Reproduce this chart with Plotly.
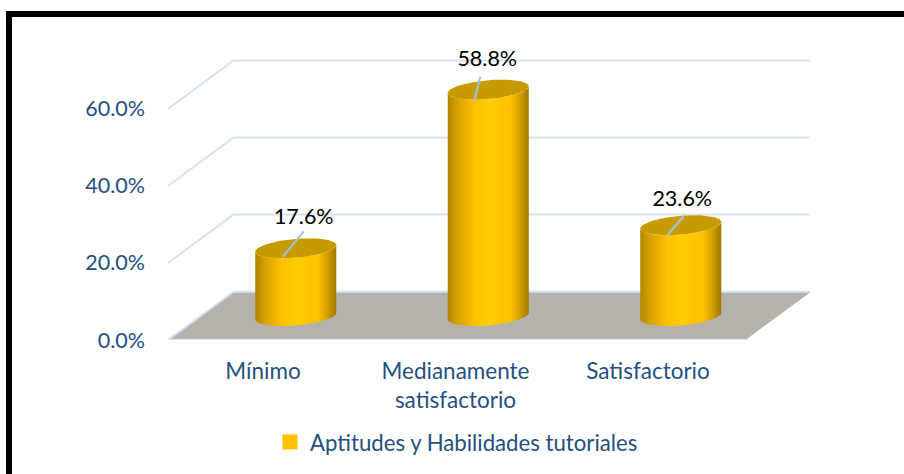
import numpy as np
import plotly.graph_objects as go

categories = ["Mínimo", "Medianamente<br>satisfactorio", "Satisfactorio"]
values = [17.6, 58.8, 23.6]
value_labels = ["17.6%", "58.8%", "23.6%"]
y_ticks = [0, 20, 40, 60]
series_name = "Aptitudes y Habilidades tutoriales"

W, H = 904, 474
L, R, T, B = 168, 810, 41, 341
PX_X, PX_Y = 192.5, 3.865          # pixels per category / per percent
X0 = 263                           # pixel of category 0 on the front edge
x_range = [(L - X0) / PX_X, (R - X0) / PX_X]
y_range = [0, (B - T) / PX_Y]
DX, DY = 65.5 / PX_X, 48.5 / PX_Y  # depth of the floor
A, EX, EY = 38.2 / PX_X, 13.5 / PX_X, 10 / PX_Y  # cylinder ellipse
BASE = 6.2
FONT = "Lato"
FS_CAT, FS_NUM, FS_LEG = 22.5, 21.5, 22.2
TEXT = "#25507F"
GRID = "#D5E3F4"
LEAD = "#9DC3E6"
GOLD = "#FFC000"
BODY = [[0, "#B08600"], [0.12, "#D6A200"], [0.33, "#FFC000"], [0.52, "#FFCC00"],
        [0.78, "#FFC000"], [0.9, "#CC9B00"], [1, "#9E7800"]]
leader_start = [(-13, 8.5), (-14, 11), (-13.5, 10)]
leader_end = [(8, 17), (-8, 13), (3, 9)]
label_off = [(8, 30), (-1, 29), (1.5, 25)]

fig = go.Figure()


def poly(x, y, **kw):
    fig.add_trace(go.Scatter(x=x, y=y, hoverinfo="skip", showlegend=False, cliponaxis=False, **kw))


# floor
poly([x_range[0], x_range[0] + 3, x_range[0] + 3 + DX, x_range[0] + DX],
     [0, 0, DY, DY], mode="lines", line=dict(width=0), fill="toself", fillcolor="#B5B2AB")
# gridlines: oblique side wall + back wall
for v in y_ticks:
    xs = [x_range[0], x_range[0] + DX, x_range[0] + 3 + DX]
    ys = [v, v + DY, v + DY]
    poly(xs, ys, mode="lines", line=dict(color=GRID, width=2))
poly([x_range[0], x_range[0] + 3], [0, 0], mode="lines", line=dict(color=GRID, width=2.5))

t0 = np.arctan2(EX, A)
for i, v in enumerate(values):
    cx = i + DX / 2
    top = BASE + v
    arc = np.linspace(t0 + np.pi, t0 + 2 * np.pi, 50)
    ax = cx + A * np.cos(arc) + EX * np.sin(arc)
    ay = EY * np.sin(arc)
    # body silhouette
    poly(np.r_[ax, ax[::-1]], np.r_[BASE + ay, top + ay[::-1]], mode="lines", line=dict(width=0),
         fill="toself", fillgradient=dict(type="horizontal", colorscale=BODY))
    # top ellipse
    tt = np.linspace(0, 2 * np.pi, 90)
    poly(cx + A * np.cos(tt) + EX * np.sin(tt), top + EY * np.sin(tt), mode="lines",
         line=dict(width=0), fill="toself", fillcolor="#C79A00")
    # leader line
    s, e = leader_start[i], leader_end[i]
    poly([cx + s[0] / PX_X, cx + e[0] / PX_X], [top - s[1] / PX_Y, top + e[1] / PX_Y],
         mode="lines", line=dict(color=LEAD, width=2))
    # value label
    poly([cx + label_off[i][0] / PX_X], [top + label_off[i][1] / PX_Y], mode="text",
         text=[value_labels[i]], textposition="middle center",
         textfont=dict(family=FONT, size=FS_NUM, color="#000000"))

# legend entry
fig.add_trace(go.Scatter(x=[None], y=[None], mode="markers", name=series_name, hoverinfo="skip",
                         marker=dict(symbol="square", size=15, color=GOLD, line=dict(width=0))))

px = lambda p: (p - L) / (R - L)
py = lambda p: (B - p) / (B - T)
fig.add_shape(type="path", xref="paper", yref="paper",
              path=f"M {px(9)} {py(480)} L {px(9)} {py(14)} L {px(910)} {py(14)}",
              line=dict(color="#000000", width=6))

fig.update_layout(
    width=W, height=H, margin=dict(l=L, r=W - R, t=T, b=H - B, pad=0),
    paper_bgcolor="#FFFFFF", plot_bgcolor="rgba(0,0,0,0)",
    font=dict(family=FONT, size=FS_CAT, color=TEXT),
    xaxis=dict(range=x_range, tickmode="array", tickvals=[0, 1, 2], ticktext=categories,
               showgrid=False, zeroline=False, showline=False, ticks="", ticklabelstandoff=15,
               tickfont=dict(family=FONT, size=FS_CAT, color=TEXT)),
    yaxis=dict(range=y_range, tickmode="array", tickvals=y_ticks,
               ticktext=[f"{v:.1f}%" for v in y_ticks],
               showgrid=False, zeroline=False, showline=False, ticks="", ticklabelstandoff=22,
               tickfont=dict(family=FONT, size=FS_NUM, color=TEXT)),
    showlegend=True,
    legend=dict(orientation="h", xref="paper", yref="paper", x=px(278), y=py(442),
                xanchor="left", yanchor="middle", bgcolor="rgba(0,0,0,0)", itemwidth=30,
                indentation=-8, font=dict(family=FONT, size=FS_LEG, color=TEXT)),
)
fig.write_html("out.html", config={"displayModeBar": False},
               post_script="document.body.style.margin='0';")
